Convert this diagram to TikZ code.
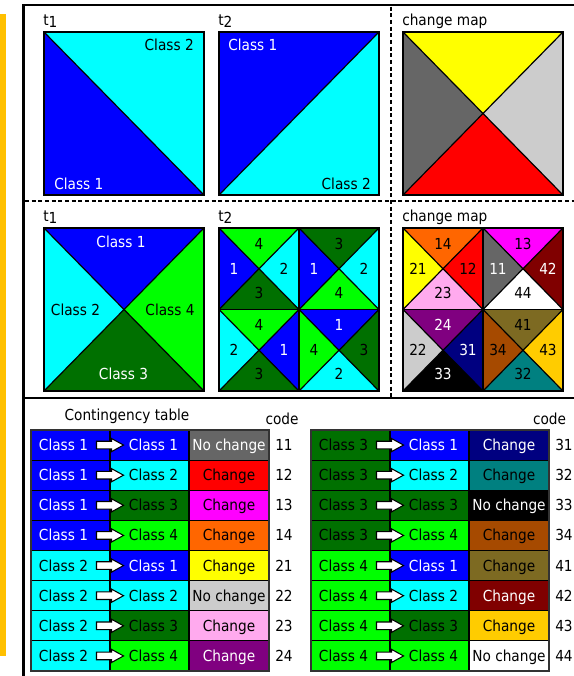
\documentclass[tikz,border=0pt]{standalone}
\usepackage{fontspec}
\setmainfont{DejaVu Sans}[FakeStretch=0.9]
\definecolor{cblue}{RGB}{0,0,255}
\definecolor{ccyan}{RGB}{0,255,255}
\definecolor{cgreen}{RGB}{0,255,0}
\definecolor{cdkgreen}{RGB}{0,112,0}
\definecolor{cgrayd}{RGB}{102,102,102}
\definecolor{cgrayl}{RGB}{204,204,204}
\definecolor{cred}{RGB}{255,0,0}
\definecolor{cmag}{RGB}{255,0,255}
\definecolor{corange}{RGB}{255,102,0}
\definecolor{cyellow}{RGB}{255,255,0}
\definecolor{cpink}{RGB}{255,170,238}
\definecolor{cpurple}{RGB}{128,0,128}
\definecolor{cnavy}{RGB}{0,0,128}
\definecolor{cteal}{RGB}{0,128,128}
\definecolor{cbrown}{RGB}{166,74,0}
\definecolor{colive}{RGB}{125,106,34}
\definecolor{cdkred}{RGB}{128,0,0}
\definecolor{cgold}{RGB}{255,204,0}
\definecolor{cside}{RGB}{255,192,0}
\colorlet{cls1}{cblue}\colorlet{tcl1}{white}
\colorlet{cls2}{ccyan}\colorlet{tcl2}{black}
\colorlet{cls3}{cdkgreen}\colorlet{tcl3}{black}
\colorlet{cls4}{cgreen}\colorlet{tcl4}{black}
\tikzset{
  lbl/.style={font=\fontsize{11.4}{13}\selectfont, inner sep=0pt, text height=8.3pt, text depth=0pt},
  sqline/.style={draw=black, line width=0.9pt},
  cell/.style={draw=black, line width=0.8pt},
  arrowshape/.style={fill=white, draw=black, line width=0.8pt, line join=miter},
}
% X-divided square: x0,y0,x1,y1, top,right,bottom,left colours
\newcommand\xsq[8]{%
  \fill[#5] (#1,#2) -- (#3,#2) -- ({(#1+#3)/2},{(#2+#4)/2}) -- cycle;
  \fill[#6] (#3,#2) -- (#3,#4) -- ({(#1+#3)/2},{(#2+#4)/2}) -- cycle;
  \fill[#7] (#3,#4) -- (#1,#4) -- ({(#1+#3)/2},{(#2+#4)/2}) -- cycle;
  \fill[#8] (#1,#4) -- (#1,#2) -- ({(#1+#3)/2},{(#2+#4)/2}) -- cycle;
  \draw[sqline] (#1,#2) -- (#3,#4) (#3,#2) -- (#1,#4);
  \draw[sqline] (#1,#2) rectangle (#3,#4);
}
% labels of an X square: name, cx, cy, top, right, bottom, left
\newcommand\xlab[7]{%
  \node[lbl] (#1t) at (#2,{#3-25}) {#4};
  \node[lbl] (#1r) at ({#2+25},#3) {#5};
  \node[lbl] (#1b) at (#2,{#3+24}) {#6};
  \node[lbl] (#1l) at ({#2-25},#3) {#7};
}
% table row: x0, row, from, to, fill3, text3, label, code
\newcommand\trow[8]{%
  \pgfmathsetmacro\yt{430+#2*30.125}%
  \pgfmathsetmacro\yb{\yt+30.125}%
  \pgfmathsetmacro\ym{\yt+15.06}%
  \pgfmathsetmacro\xa{#1+79}%
  \pgfmathsetmacro\xb{#1+158}%
  \pgfmathsetmacro\xc{#1+238}%
  \filldraw[fill=cls#3, cell] (#1,\yt) rectangle (\xa,\yb);
  \filldraw[fill=cls#4, cell] (\xa,\yt) rectangle (\xb,\yb);
  \filldraw[fill=#5, cell] (\xb,\yt) rectangle (\xc,\yb);
  \filldraw[arrowshape] (\xa,\ym) ++(-13.5,-3.8) -- ++(15,0) -- ++(0,-2.8) -- ++(12,6.6) -- ++(-12,6.6) -- ++(0,-2.8) -- ++(-15,0) -- cycle;
  \node[lbl, text=tcl#3] (T#1r#2a) at ({#1+32.5},\ym) {Class #3};
  \node[lbl, text=tcl#4] (T#1r#2b) at ({#1+122.5},\ym) {Class #4};
  \node[lbl, text=#6] (T#1r#2c) at ({#1+198},\ym) {#7};
  \node[lbl, anchor=west] (T#1r#2d) at ({#1+244},\ym) {#8};
}
\newcommand\tsub[1]{t\raisebox{-0.35ex}{#1}}
\begin{document}
\begin{tikzpicture}[x=0.75pt, y=-0.75pt]
\useasboundingbox (0,0) rectangle (574,676);
\fill[white] (0,0) rectangle (574,676);
% side bar
\fill[cside] (0,14) rectangle (5.5,656);
% frame and separators
\draw[line width=2.2pt] (574,5) -- (23.5,5) -- (23.5,676);
\draw[dashed, dash pattern=on 3pt off 2pt, line width=0.8pt] (25,201) -- (574,201);
\draw[dashed, dash pattern=on 3pt off 2pt, line width=0.8pt] (391,6.5) -- (391,397.5);
\draw[line width=1.1pt] (25,398) -- (574,398);

% ---------- top row ----------
\node[lbl, anchor=base west] (ta1) at (43,25) {\tsub{1}};
\node[lbl, anchor=base west] (ta2) at (218,25) {\tsub{2}};
\node[lbl, anchor=base west] (tac) at (402,25) {change map};
% t1
\fill[cblue] (44,32) -- (44,195) -- (204,195) -- cycle;
\fill[ccyan] (44,32) -- (204,32) -- (204,195) -- cycle;
\draw[sqline] (44,32) -- (204,195);
\draw[sqline] (44,32) rectangle (204,195);
\node[lbl, anchor=base east] (a1c2) at (194,50) {Class 2};
\node[lbl, anchor=base west, text=white] (a1c1) at (54,189) {Class 1};
% t2
\fill[cblue] (219,32) -- (379,32) -- (219,195) -- cycle;
\fill[ccyan] (379,32) -- (379,195) -- (219,195) -- cycle;
\draw[sqline] (379,32) -- (219,195);
\draw[sqline] (219,32) rectangle (379,195);
\node[lbl, anchor=base west, text=white] (a2c1) at (228,50) {Class 1};
\node[lbl, anchor=base east] (a2c2) at (371,189) {Class 2};
% change map
\xsq{403}{32}{563}{195}{cyellow}{cgrayl}{cred}{cgrayd}

% ---------- middle row ----------
\node[lbl, anchor=base west] (tb1) at (43,221) {\tsub{1}};
\node[lbl, anchor=base west] (tb2) at (218,221) {\tsub{2}};
\node[lbl, anchor=base west] (tbc) at (402,221) {change map};
% t1
\xsq{44}{228}{204}{391}{cblue}{cgreen}{cdkgreen}{ccyan}
\node[lbl, text=white] (b1c1) at (121,241.5) {Class 1};
\node[lbl] (b1c2) at (75.5,309.5) {Class 2};
\node[lbl] (b1c4) at (170,309.5) {Class 4};
\node[lbl, text=white] (b1c3) at (123.5,373.5) {Class 3};
% t2
\xsq{219}{228}{299}{309.5}{cgreen}{ccyan}{cdkgreen}{cblue}
\xsq{299}{228}{379}{309.5}{cdkgreen}{ccyan}{cgreen}{cblue}
\xsq{219}{309.5}{299}{391}{cgreen}{cblue}{cdkgreen}{ccyan}
\xsq{299}{309.5}{379}{391}{cblue}{cdkgreen}{ccyan}{cgreen}
\xlab{qa}{259}{268.75}{4}{2}{3}{\color{white}1}
\xlab{qb}{339}{268.75}{3}{2}{4}{\color{white}1}
\xlab{qc}{259}{350.25}{4}{\color{white}1}{3}{2}
\xlab{qd}{339}{350.25}{\color{white}1}{3}{2}{4}
% change map
\xsq{403}{228}{483}{309.5}{corange}{cred}{cpink}{cyellow}
\xsq{483}{228}{563}{309.5}{cmag}{cdkred}{white}{cgrayd}
\xsq{403}{309.5}{483}{391}{cpurple}{cnavy}{black}{cgrayl}
\xsq{483}{309.5}{563}{391}{colive}{cgold}{cteal}{cbrown}
\xlab{ma}{443}{268.75}{14}{12}{23}{21}
\xlab{mb}{523}{268.75}{13}{\color{white}42}{44}{\color{white}11}
\xlab{mc}{443}{350.25}{\color{white}24}{\color{white}31}{\color{white}33}{22}
\xlab{md}{523}{350.25}{41}{43}{32}{34}

% ---------- tables ----------
\node[lbl, anchor=base] (ctab) at (127,420.5) {Contingency table};
\node[lbl, anchor=base] (code1) at (282,424) {code};
\node[lbl, anchor=base] (code2) at (549.5,424) {code};
\trow{31}{0}{1}{1}{cgrayd}{white}{No change}{11}
\trow{31}{1}{1}{2}{cred}{black}{Change}{12}
\trow{31}{2}{1}{3}{cmag}{black}{Change}{13}
\trow{31}{3}{1}{4}{corange}{black}{Change}{14}
\trow{31}{4}{2}{1}{cyellow}{black}{Change}{21}
\trow{31}{5}{2}{2}{cgrayl}{black}{No change}{22}
\trow{31}{6}{2}{3}{cpink}{black}{Change}{23}
\trow{31}{7}{2}{4}{cpurple}{white}{Change}{24}
\trow{311}{0}{3}{1}{cnavy}{white}{Change}{31}
\trow{311}{1}{3}{2}{cteal}{black}{Change}{32}
\trow{311}{2}{3}{3}{black}{white}{No change}{33}
\trow{311}{3}{3}{4}{cbrown}{black}{Change}{34}
\trow{311}{4}{4}{1}{colive}{black}{Change}{41}
\trow{311}{5}{4}{2}{cdkred}{white}{Change}{42}
\trow{311}{6}{4}{3}{cgold}{black}{Change}{43}
\trow{311}{7}{4}{4}{white}{black}{No change}{44}
\draw[line width=1.2pt, draw=black!80] (31,430) rectangle (269,671);
\draw[line width=1.2pt, draw=black!80] (311,430) rectangle (549,671);
\end{tikzpicture}
\end{document}
